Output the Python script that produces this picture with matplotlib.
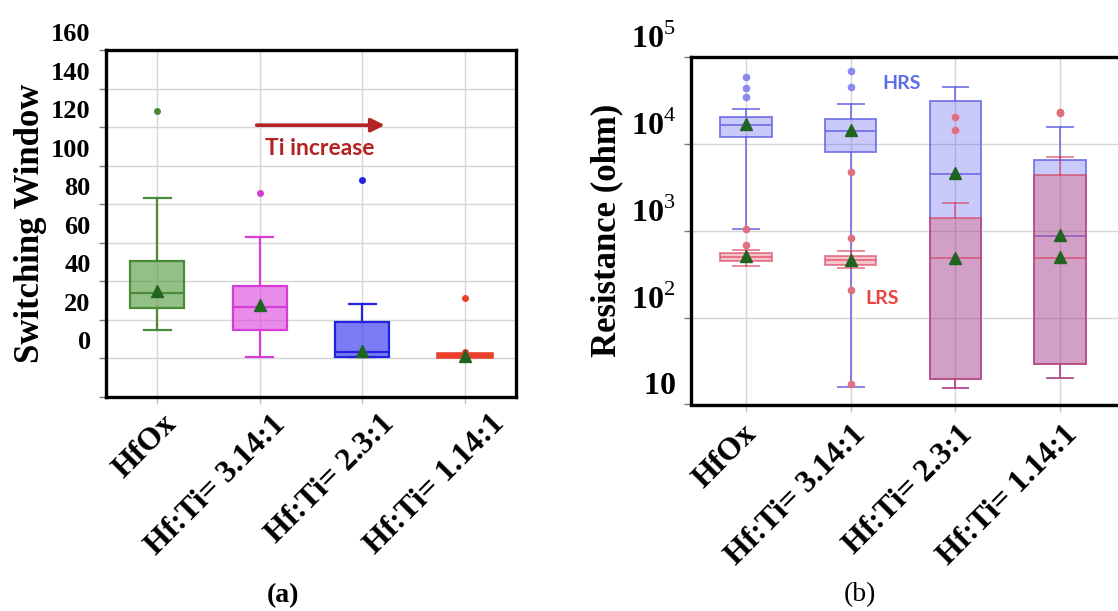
import numpy as np
import matplotlib
matplotlib.use("Agg")
import matplotlib.pyplot as plt
from matplotlib.transforms import ScaledTranslation
from matplotlib.ticker import NullLocator

plt.rcParams["mathtext.fontset"] = "custom"
plt.rcParams["mathtext.rm"] = "Liberation Serif"
plt.rcParams["mathtext.bf"] = "Liberation Serif:bold"

samples = ["HfOx", "Hf:Ti= 3.14:1", "Hf:Ti= 2.3:1", "Hf:Ti= 1.14:1"]

# (a) switching window per sample
sw_whislo = [14.5, 1.0, 0.5, 0.6]
sw_q1 = [26.1, 14.5, 1.0, 0.9]
sw_med = [33.9, 26.9, 3.3, 1.5]
sw_q3 = [50.6, 37.8, 18.9, 2.2]
sw_whishi = [83.1, 63.0, 28.2, 2.4]
sw_mean = [35.0, 27.5, 4.0, 1.4]
sw_fliers = [[128.2], [85.9], [92.7], [3.3, 31.3]]

# (b) HRS / LRS resistance (ohm)
hrs_whislo = [1030, 16, 15.5, 20.4]
hrs_q1 = [12000, 8070, 19.5, 29.5]
hrs_med = [16400, 14100, 4470, 871]
hrs_q3 = [20400, 19000, 31200, 6460]
hrs_whishi = [25100, 28300, 45200, 15400]
hrs_mean = [16800, 14300, 4550, 890]
hrs_fliers = [[34600, 43300, 58900], [44500, 69000], [], []]

lrs_whislo = [389, 373, 15.5, 20.4]
lrs_q1 = [450, 398, 19.5, 29.5]
lrs_med = [501, 457, 480, 480]
lrs_q3 = [547, 509, 1380, 4370]
lrs_whishi = [597, 581, 2090, 7100]
lrs_mean = [505, 465, 490, 495]
lrs_fliers = [[690, 1030], [17.4, 207, 826, 4750], [14300, 20000], [22500, 23300]]

sw_ticks = [-20, 0, 20, 40, 60, 80, 100, 120, 140, 160]
sw_ticklabels = ["", "0", "20", "40", "60", "80", "100", "120", "140", "160"]
r_ticks = [10, 1e2, 1e3, 1e4, 1e5]
r_ticklabels = [r"$\mathbf{10}$", r"$\mathbf{10}^{2}$", r"$\mathbf{10}^{3}$",
                r"$\mathbf{10}^{4}$", r"$\mathbf{10}^{5}$"]


def make_stats(lo, q1, med, q3, hi, mean, fliers):
    return [dict(whislo=a, q1=b, med=c, q3=d, whishi=e, mean=f, fliers=g)
            for a, b, c, d, e, f, g in zip(lo, q1, med, q3, hi, mean, fliers)]


serif = "Liberation Serif"
mean_green = "#1f641f"
dpi = 100

fig = plt.figure(figsize=(11.18, 6.11), dpi=dpi)
ax1 = fig.add_axes([106 / 1118, 1 - 397 / 611, 410 / 1118, 347 / 611])
ax2 = fig.add_axes([691 / 1118, 1 - 404.5 / 611, 434 / 1118, 347.8 / 611])

# ---- (a) switching window ----
sw_stats = make_stats(sw_whislo, sw_q1, sw_med, sw_q3, sw_whishi, sw_mean, sw_fliers)
box_colors = [
    # face, alpha, edge, lw
    ("#5a9e46", 0.65, "#4a8a38", 1.6),
    ("#dd44dd", 0.62, "#d63cd6", 1.6),
    ("#3535ee", 0.65, "#2222e0", 1.6),
    ("#e8402a", 0.9, "#e8402a", 2.6),
]
for i, (st, (fc, a, ec, lw)) in enumerate(zip(sw_stats, box_colors)):
    ax1.bxp([st], positions=[i + 1], widths=0.53, patch_artist=True,
            showmeans=True, manage_ticks=False,
            boxprops=dict(facecolor=matplotlib.colors.to_rgba(fc, a), edgecolor=ec, linewidth=lw),
            whiskerprops=dict(color=ec, linewidth=1.6),
            capprops=dict(color=ec, linewidth=1.6),
            medianprops=dict(color=ec, linewidth=lw),
            flierprops=dict(marker="o", markersize=4, markerfacecolor=ec, markeredgecolor=ec),
            meanprops=dict(marker="^", markersize=8, markerfacecolor=mean_green,
                           markeredgecolor=mean_green, zorder=6))

ax1.set_xlim(0.5, 4.5)
ax1.set_ylim(-20, 160)
ax1.set_yticks(sw_ticks, sw_ticklabels)

ax1.annotate("", xy=(3.22, 121), xytext=(1.97, 121),
             arrowprops=dict(arrowstyle="-|>", color="#b42222", lw=2.6, mutation_scale=20,
                             shrinkA=0, shrinkB=0))
ax1.text(2.59, 109, "Ti increase", color="#b42222", fontsize=16.5, fontweight="bold",
         family="Lato", ha="center", va="center")
ax1.set_ylabel("Switching Window", fontsize=25, fontweight="bold", family=serif)
ax1.yaxis.set_label_coords(-0.145, 0.5)

# ---- (b) resistance ----
hrs_stats = make_stats(hrs_whislo, hrs_q1, hrs_med, hrs_q3, hrs_whishi, hrs_mean, hrs_fliers)
lrs_stats = make_stats(lrs_whislo, lrs_q1, lrs_med, lrs_q3, lrs_whishi, lrs_mean, lrs_fliers)
pos = np.arange(1, len(samples) + 1)

hrs_edge = matplotlib.colors.to_rgba("#6464e6", 0.8)
ax2.bxp(hrs_stats, positions=pos, widths=0.49, patch_artist=True, showmeans=True,
        manage_ticks=False, zorder=2,
        boxprops=dict(facecolor=matplotlib.colors.to_rgba("#5050f0", 0.3), edgecolor=hrs_edge, linewidth=1.4),
        whiskerprops=dict(color=hrs_edge, linewidth=1.4),
        capprops=dict(color=hrs_edge, linewidth=1.4),
        medianprops=dict(color=hrs_edge, linewidth=1.4),
        flierprops=dict(marker="o", markersize=4.5, markerfacecolor="#8a8af0",
                        markeredgecolor="#8a8af0"),
        meanprops=dict(marker="^", markersize=8, markerfacecolor=mean_green,
                       markeredgecolor=mean_green, zorder=6))

lrs_edge = matplotlib.colors.to_rgba("#d83c5a", 0.6)
ax2.bxp(lrs_stats, positions=pos, widths=0.49, patch_artist=True, showmeans=True,
        manage_ticks=False, zorder=3,
        boxprops=dict(facecolor=matplotlib.colors.to_rgba("#e63c50", 0.3), edgecolor=lrs_edge, linewidth=1.4),
        whiskerprops=dict(color=lrs_edge, linewidth=1.4),
        capprops=dict(color=lrs_edge, linewidth=1.4),
        medianprops=dict(color=lrs_edge, linewidth=1.4),
        flierprops=dict(marker="o", markersize=4.5, markerfacecolor="#e07080",
                        markeredgecolor="#e07080"),
        meanprops=dict(marker="^", markersize=8, markerfacecolor=mean_green,
                       markeredgecolor=mean_green, zorder=6))

ax2.set_yscale("log")
ax2.set_xlim(0.475, 4.62)
ax2.set_ylim(10, 1e5)
ax2.set_yticks(r_ticks, r_ticklabels)
ax2.yaxis.set_minor_locator(NullLocator())
ax2.text(2.49, 49800, "HRS", color="#5a6ee8", fontsize=14, fontweight="bold",
         family="Lato", ha="center", va="center")
ax2.text(2.30, 167, "LRS", color="#e8453c", fontsize=14, fontweight="bold",
         family="Lato", ha="center", va="center")
ax2.set_ylabel("Resistance (ohm)", fontsize=25, fontweight="bold", family=serif)
ax2.yaxis.set_label_coords(-0.157, 0.5)

# ---- shared styling ----
# the category labels fan out slightly wider than the tick spacing
for ax, ysize, yshift, xshift, xpad in [(ax1, 19, 18, (25, 32, 38, 46), 4),
                                         (ax2, 23, 21, (17, 21, 23, 23), 6)]:
    ax.set_xticks(pos, samples)
    ax.set_axisbelow(True)
    ax.grid(True, color="#d6d6d6", linewidth=1.0)
    for s in ax.spines.values():
        s.set_linewidth(2.4)
    ax.tick_params(axis="y", length=5, width=1, color="#777777", pad=6)
    ax.tick_params(axis="x", length=5, width=1, color="#c4c4c4", pad=xpad)
    for lab in ax.get_yticklabels():
        lab.set_fontsize(ysize)
        lab.set_fontweight("bold")
        lab.set_family(serif)
        lab.set_transform(lab.get_transform()
                          + ScaledTranslation(0, yshift / dpi, fig.dpi_scale_trans))
    for lab, dx in zip(ax.get_xticklabels(), xshift):
        lab.set_fontsize(23)
        lab.set_fontweight("bold")
        lab.set_family(serif)
        lab.set_rotation(45)
        lab.set_ha("right")
        lab.set_va("top")
        lab.set_transform(lab.get_transform()
                          + ScaledTranslation(dx / dpi, 0, fig.dpi_scale_trans))

fig.text(283 / 1118, 1 - 596 / 611, "(a)", fontsize=20, fontweight="bold", family=serif,
         ha="center", va="center")
fig.text(860 / 1118, 1 - 595 / 611, "(b)", fontsize=20, family=serif,
         ha="center", va="center")

fig.savefig("out.png", dpi=dpi)
